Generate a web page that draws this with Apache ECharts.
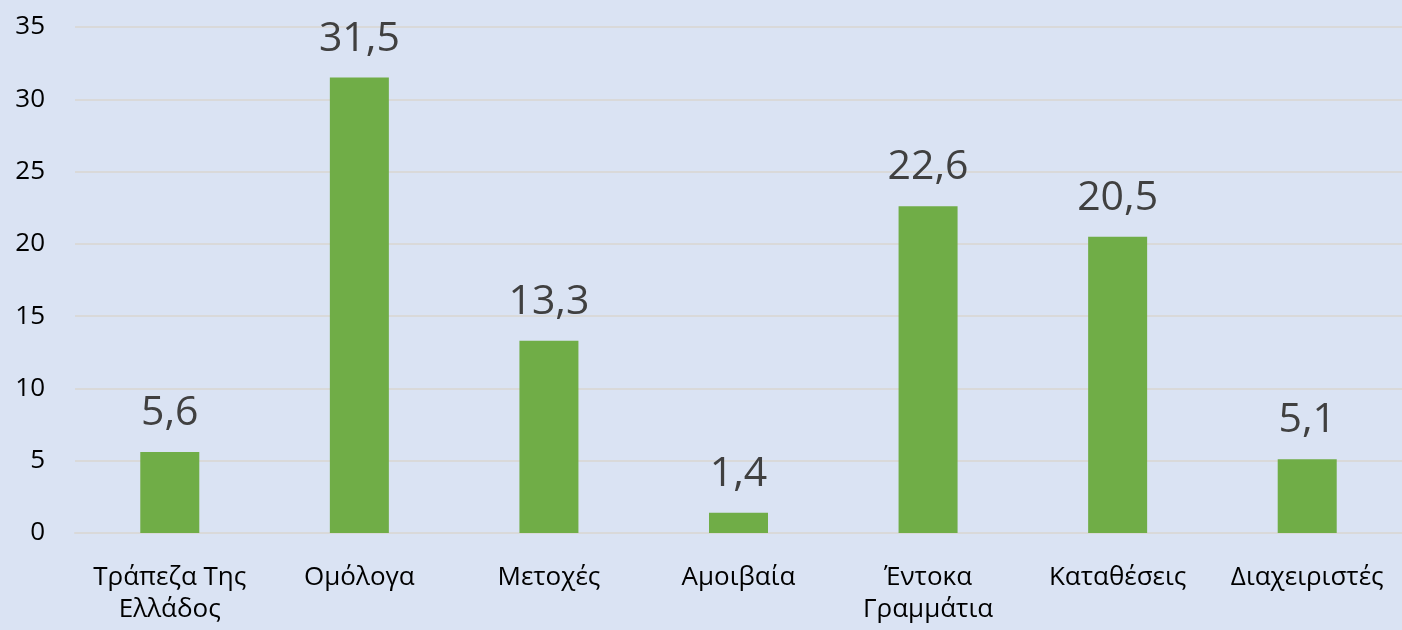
<!DOCTYPE html>
<html>
<head>
<meta charset="utf-8">
<script src="https://cdn.jsdelivr.net/npm/echarts@6/dist/echarts.min.js"></script>
<style>
  html, body { margin: 0; padding: 0; background: #DAE3F3; }
  #chart { width: 1402px; height: 630px; }
</style>
</head>
<body>
<div id="chart"></div>
<script>
const categories = ["Τράπεζα Της\nΕλλάδος", "Ομόλογα", "Μετοχές", "Αμοιβαία", "Έντοκα\nΓραμμάτια", "Καταθέσεις", "Διαχειριστές"];
const values = [5.6, 31.5, 13.3, 1.4, 22.6, 20.5, 5.1];
const yTicks = { min: 0, max: 35, interval: 5 };

const chart = echarts.init(document.getElementById("chart"));
chart.setOption({
  backgroundColor: "#DAE3F3",
  textStyle: { fontFamily: "Open Sans" },
  grid: { left: 75, right: 0, top: 27, bottom: 97 },
  xAxis: {
    type: "category",
    data: categories,
    axisLine: { show: true, lineStyle: { color: "#D9D9D9", width: 2 } },
    axisTick: { show: false },
    axisLabel: {
      color: "#000",
      fontSize: 26,
      lineHeight: 32,
      margin: 29,
      interval: 0
    }
  },
  yAxis: {
    type: "value",
    min: yTicks.min,
    max: yTicks.max,
    interval: yTicks.interval,
    axisLine: { show: false },
    axisTick: { show: false },
    splitLine: { lineStyle: { color: "#D9D9D9", width: 2 } },
    axisLabel: { color: "#000", fontSize: 26, margin: 30 }
  },
  series: [
    {
      type: "bar",
      data: values,
      barWidth: 59,
      itemStyle: { color: "#70AD47" },
      label: {
        show: true,
        position: "top",
        distance: 18,
        color: "#404040",
        fontSize: 41,
        formatter: p => String(p.value).replace(".", ",")
      }
    }
  ]
});
</script>
</body>
</html>
